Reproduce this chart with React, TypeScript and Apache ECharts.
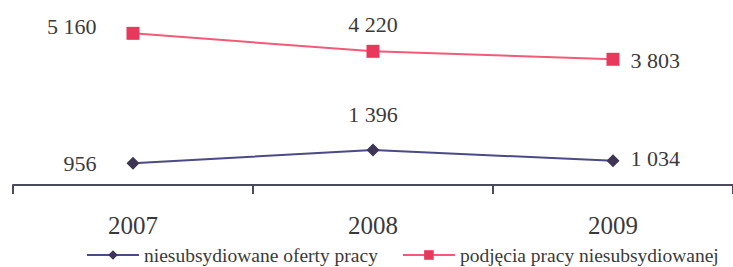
import React, { useEffect, useRef } from "react";
import * as echarts from "echarts";

const years = ["2007", "2008", "2009"];
const ofertyValues = [956, 1396, 1034];
const podjeciaValues = [5160, 4220, 3803];
const ofertyName = "niesubsydiowane oferty pracy";
const podjeciaName = "podjęcia pracy niesubsydiowanej";

const fmt = (v: number) => {
  const s = String(Math.round(v));
  return s.replace(/\B(?=(\d{3})+(?!\d))/g, " ");
};

export default function App() {
  const ref = useRef<HTMLDivElement>(null);
  useEffect(() => {
    if (!ref.current) return;
    const chart = echarts.init(ref.current, null, { renderer: "svg" });
    const labelFont = {
      fontFamily: "Liberation Serif",
      fontSize: 22,
      color: "#3a3a3a",
    };
    const redPos = [
      { position: "left", distance: 30, offset: [0, -7] },
      { position: "top", distance: 9, offset: [0, 0] },
      { position: "right", distance: 11, offset: [0, 1] },
    ];
    const bluePos = [
      { position: "left", distance: 30, offset: [0, 0] },
      { position: "top", distance: 18, offset: [0, 0] },
      { position: "right", distance: 11, offset: [0, -2] },
    ];
    chart.setOption({
      animation: false,
      backgroundColor: "#ffffff",
      grid: { left: 13, width: 723, top: 10, height: 175 },
      legend: {
        left: 86,
        top: 245,
        width: 660,
        padding: 0,
        itemWidth: 52,
        itemHeight: 12,
        itemGap: 24,
        textStyle: {
          fontFamily: "Liberation Serif",
          fontSize: 19.5,
          color: "#3a3a3a",
        },
        data: [ofertyName, podjeciaName],
      },
      xAxis: {
        type: "category",
        data: years,
        boundaryGap: true,
        axisLine: {
          onZero: false,
          lineStyle: { color: "#4a4a5c", width: 2 },
        },
        axisTick: {
          show: true,
          length: 9,
          interval: 0,
          lineStyle: { color: "#4a4a5c", width: 2 },
        },
        axisLabel: {
          margin: 28,
          fontFamily: "Liberation Serif",
          fontSize: 25,
          color: "#3a3a3a",
        },
        splitLine: { show: false },
      },
      yAxis: [
        { type: "value", min: -2771, max: 6381, show: false, splitLine: { show: false } },
        { type: "value", min: 223, max: 6095, show: false, splitLine: { show: false } },
      ],
      series: [
        {
          name: ofertyName,
          type: "line",
          yAxisIndex: 1,
          symbol: "diamond",
          symbolSize: 13,
          lineStyle: { color: "#4a4a86", width: 2 },
          itemStyle: { color: "#3d3553" },
          data: ofertyValues.map((v, i) => ({
            value: v,
            label: { show: true, ...bluePos[i], ...labelFont, formatter: (p: any) => fmt(p.value) },
          })),
        },
        {
          name: podjeciaName,
          type: "line",
          yAxisIndex: 0,
          symbol: "rect",
          symbolSize: 13,
          lineStyle: { color: "#f25a78", width: 2 },
          itemStyle: { color: "#e8395c" },
          data: podjeciaValues.map((v, i) => ({
            value: v,
            label: { show: true, ...redPos[i], ...labelFont, formatter: (p: any) => fmt(p.value) },
          })),
        },
      ],
    });
    return () => chart.dispose();
  }, []);
  return (
    <div
      ref={ref}
      style={{ position: "fixed", left: 0, top: 0, width: 733, height: 267 }}
    />
  );
}
